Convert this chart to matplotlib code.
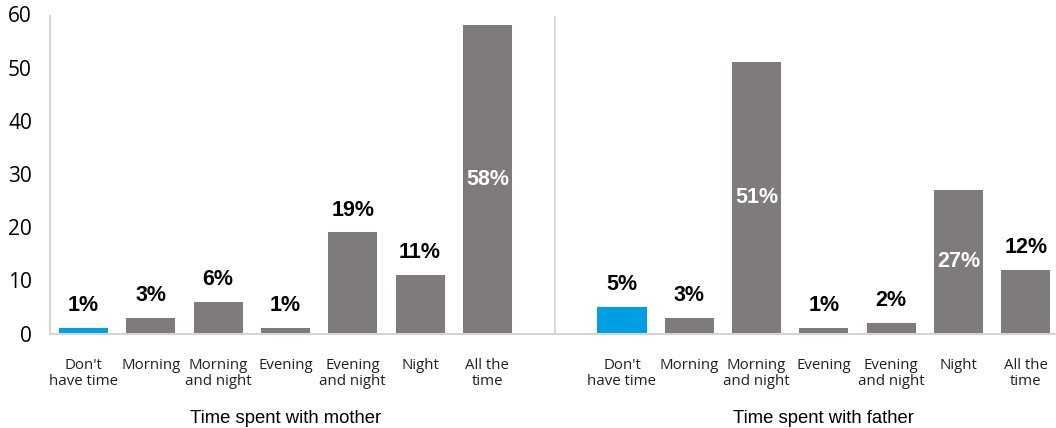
import numpy as np
import matplotlib.pyplot as plt

categories = ["Don't\nhave time", "Morning", "Morning\nand night", "Evening",
              "Evening\nand night", "Night", "All the\ntime"]
mother = [1, 3, 6, 1, 19, 11, 58]
father = [5, 3, 51, 1, 2, 27, 12]
groups = ["Time spent with mother", "Time spent with father"]
inside = {58, 51, 27}

GRAY = '#7f7b7c'
BLUE = '#009fe3'
LINE = '#d4d4d4'

fig = plt.figure(figsize=(10.56, 4.28), dpi=100)
ax = fig.add_axes([50 / 1056, 1 - 333.5 / 428, 1 - 50 / 1056, 319.2 / 428])

for offset, values in [(0, mother), (8, father)]:
    x = np.arange(len(values)) + offset
    colors = [BLUE] + [GRAY] * (len(values) - 1)
    ax.bar(x, values, width=0.73, color=colors, zorder=2)
    for xi, v in zip(x, values):
        if v in inside:
            ax.text(xi, v / 2, "{}%".format(v), ha='center', va='center',
                    color='white', fontsize=15.5, fontweight='bold',
                    family='Liberation Sans')
        else:
            ax.annotate("{}%".format(v), (xi, v), xytext=(0, 8.5),
                        textcoords='offset points', ha='center', va='bottom',
                        color='black', fontsize=15.5, fontweight='bold',
                        family='Liberation Sans')
    for xi, c in zip(x, categories):
        ax.annotate(c, (xi, 0), xytext=(0, -17.5), textcoords='offset points',
                    ha='center', va='top', fontsize=10.8, family='Open Sans',
                    color='#231f20', linespacing=1.15,
                    annotation_clip=False)

for xg, g in zip([3, 11], groups):
    ax.annotate(g, (xg, 0), xytext=(0, -61.5), textcoords='offset points',
                ha='center', va='center', fontsize=13.3,
                family='Liberation Sans', annotation_clip=False)

ax.axvline(7, color=LINE, lw=1.3, ymin=0, ymax=0.99, zorder=1)

ax.set_xlim(-0.5, 14.45)
ax.set_ylim(0, 60)
ax.set_yticks(range(0, 61, 10))
ax.set_xticks([])
ax.tick_params(axis='y', length=0, pad=13, labelsize=15)
for lab in ax.get_yticklabels():
    lab.set_family('Open Sans')
for s in ['top', 'right']:
    ax.spines[s].set_visible(False)
for s in ['left', 'bottom']:
    ax.spines[s].set_color(LINE)
    ax.spines[s].set_linewidth(1.5)
ax.spines['left'].set_bounds(0, 59.6)

fig.savefig('out.png', dpi=100)
